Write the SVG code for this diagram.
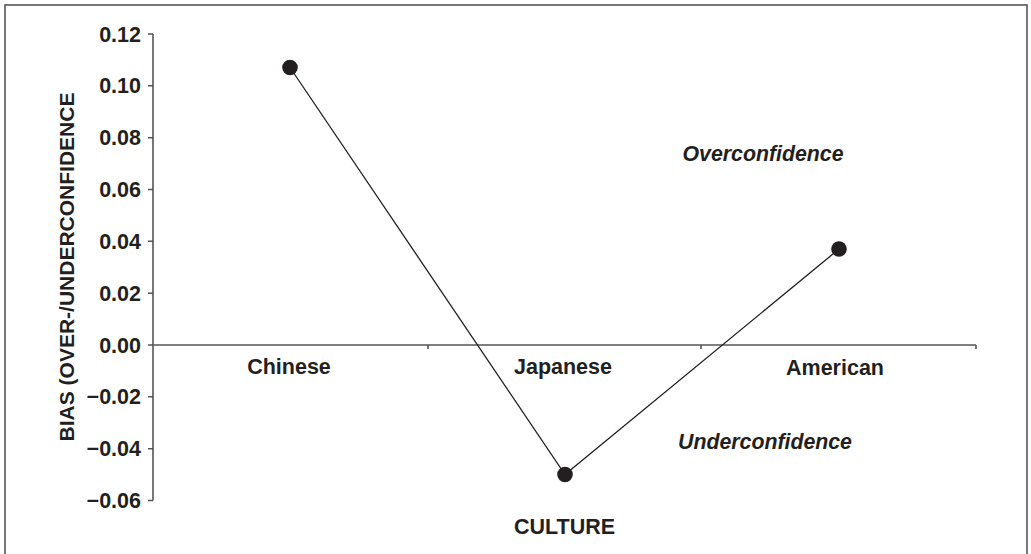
<svg xmlns="http://www.w3.org/2000/svg" width="1031" height="554" viewBox="0 0 1031 554">
<style>
.frame{fill:none;stroke:#555;stroke-width:1.6}
.axis{fill:none;stroke:#555;stroke-width:1.6}
.tick{font-family:"Liberation Sans",Arial,sans-serif;font-weight:bold;font-size:21.5px;fill:#231f20;text-anchor:end}
.cat{font-family:"Liberation Sans",Arial,sans-serif;font-weight:bold;font-size:21.5px;fill:#231f20;text-anchor:middle}
.note{font-family:"Liberation Sans",Arial,sans-serif;font-weight:bold;font-style:italic;font-size:21.3px;fill:#231f20;text-anchor:middle}
.series{fill:none;stroke:#231f20;stroke-width:1.3}
.pt{fill:#231f20}
</style>
<rect class="frame" x="5" y="5" width="1022" height="560"/>
<g id="y-axis">
<path class="axis" d="M153 34V500.5M148 34H153M148 85.8H153M148 137.7H153M148 189.5H153M148 241.3H153M148 293.2H153M148 345H153M148 396.8H153M148 448.7H153M148 500.5H153"/>
<text class="tick" x="141" y="41.5">0.12</text>
<text class="tick" x="141" y="93.3">0.10</text>
<text class="tick" x="141" y="145.2">0.08</text>
<text class="tick" x="141" y="197">0.06</text>
<text class="tick" x="141" y="248.8">0.04</text>
<text class="tick" x="141" y="300.7">0.02</text>
<text class="tick" x="141" y="352.5">0.00</text>
<text class="tick" x="141" y="404.3">−0.02</text>
<text class="tick" x="141" y="456.2">−0.04</text>
<text class="tick" x="141" y="508">−0.06</text>
<text id="y-title" font-family="Liberation Sans,Arial,sans-serif" font-weight="bold" font-size="21" fill="#231f20" text-anchor="middle" transform="translate(74 267) rotate(-90)">BIAS (OVER-/UNDERCONFIDENCE</text>
</g>
<g id="x-axis">
<path class="axis" d="M153 345H976M428 345V349M701 345V349M976 345V349"/>
<text class="cat" x="289" y="374">Chinese</text>
<text class="cat" x="563" y="374">Japanese</text>
<text class="cat" x="835" y="375">American</text>
<text id="x-title" class="cat" x="564.5" y="534">CULTURE</text>
</g>
<g id="labels">
<text class="note" x="763" y="161">Overconfidence</text>
<text class="note" x="765" y="449">Underconfidence</text>
</g>
<g id="connectors">
<polyline class="series" points="290,67.5 565,474.5 839,249"/>
</g>
<g id="point-chinese"><circle class="pt" cx="290" cy="67.5" r="7.8"/></g>
<g id="point-japanese"><circle class="pt" cx="565" cy="474.5" r="7.8"/></g>
<g id="point-american"><circle class="pt" cx="839" cy="249" r="7.8"/></g>
</svg>
